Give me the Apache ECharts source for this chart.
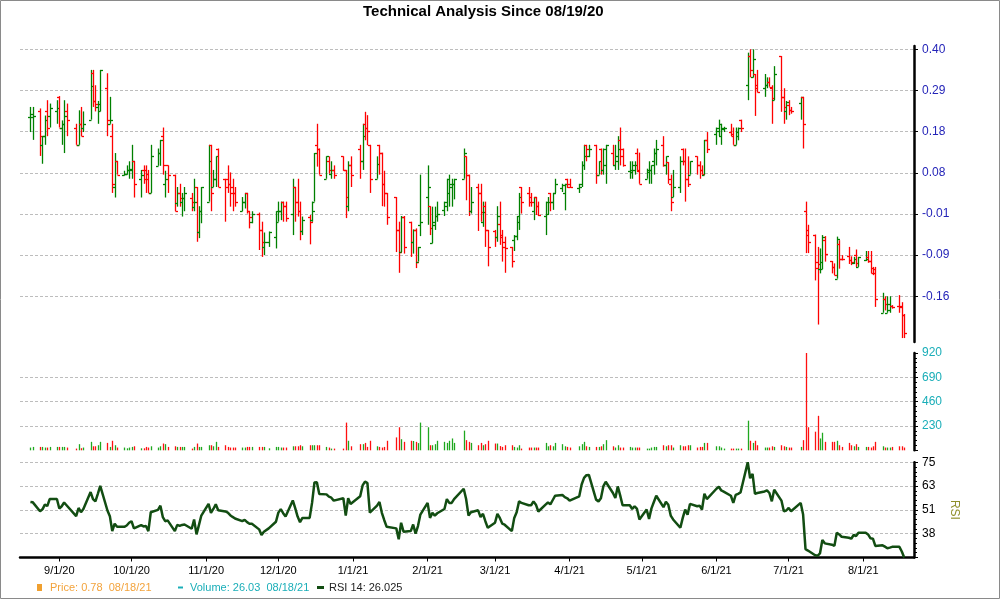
<!DOCTYPE html>
<html>
<head>
<meta charset="utf-8">
<script src="https://cdn.jsdelivr.net/npm/echarts@6/dist/echarts.min.js"></script>
<style>html,body{margin:0;padding:0;background:#fff}#chart{width:1000px;height:600px}</style>
</head>
<body>
<div id="chart"></div>
<script>
// ---------- data ----------
const titleText = 'Technical Analysis Since 08/19/20';
const firstDay = '2020-08-20';
const lastDay = '2021-08-18';
const marketHolidays = ['2020-09-07','2020-11-26','2020-12-25','2021-01-01','2021-01-18','2021-02-15','2021-04-02','2021-05-31','2021-07-05'];
const monthTicks = ['2020-09-01','2020-10-01','2020-11-01','2020-12-01','2021-01-01','2021-02-01','2021-03-01','2021-04-01','2021-05-01','2021-06-01','2021-07-01','2021-08-01'];
const priceTickLabels = [-0.16, -0.09, -0.01, 0.08, 0.18, 0.29, 0.40];
const volumeMax = 920, volumeStep = 230;
const rsiMin = 26.025, rsiMax = 75;
const priceName = 'Price: 0.78  08/18/21';
const volumeName = 'Volume: 26.03  08/18/21';
const rsiName = 'RSI 14: 26.025';

const open = [
 0.219,0.219,
 0.234,0.148,0.169,0.234,0.223,
 0.234,0.273,0.191,0.201,0.234,
 0.191,0.148,0.201,0.191,
 0.212,0.336,0.262,0.246,0.234,
 0.296,0.201,0.169,0.049,0.108,
 0.076,0.078,0.087,0.087,0.108,
 0.067,0.087,0.087,0.078,0.036,
 0.097,0.128,0.169,0.056,0.098,
 0.076,0.013,0.036,0.017,0.026,
 0.026,0.006,0.049,-0.046,-0.004,
 0.017,0.148,0.049,0.067,0.139,
 0.067,0.067,0.056,0.049,0.036,
 -0.004,0.017,0.036,-0.004,-0.025,
 -0.009,-0.041,-0.074,-0.064,
 -0.054,-0.025,-0.004,0.017,0.007,
 -0.009,0.049,0.017,-0.004,-0.044,
 -0.015,-0.022,0.017,0.148,0.139,
 0.067,0.108,0.078,0.087,
 0.120,0.087,0.007,0.098,
 0.139,0.108,0.201,0.191,0.148,
 0.067,0.148,0.129,0.056,0.036,
 0.027,-0.041,-0.084,-0.015,
 -0.025,-0.064,-0.041,-0.101,-0.031,
 0.027,0.007,-0.067,-0.031,-0.014,
 -0.001,0.017,0.036,0.049,0.056,
 0.067,0.120,0.076,-0.004,
 0.049,0.036,-0.025,0.007,-0.041,
 -0.044,-0.054,-0.030,-0.054,-0.074,
 -0.074,-0.061,-0.053,-0.025,0.049,
 0.036,0.027,-0.004,0.027,0.007,
 -0.014,-0.009,0.036,0.017,0.036,
 0.047,0.036,0.067,0.056,
 0.047,0.056,0.098,0.148,0.120,
 0.148,0.076,0.139,0.087,0.098,
 0.129,0.098,0.108,0.159,0.139,
 0.085,0.081,0.087,0.129,0.085,
 0.067,0.081,0.087,0.108,0.129,
 0.148,0.098,0.106,0.056,0.027,
 0.049,0.139,0.108,0.067,0.076,
 0.120,0.098,0.087,0.076,0.160,
 0.175,0.191,0.169,0.188,
 0.179,0.175,0.148,0.169,0.212,
 0.304,0.382,0.325,0.334,0.296,
 0.296,0.304,0.313,0.296,0.264,
 0.382,0.273,0.234,0.251,0.237,
 0.257,0.273,-0.004,-0.041,
 -0.050,-0.101,-0.113,-0.114,-0.061,
 -0.100,-0.110,-0.130,-0.069,-0.096,
 -0.092,-0.099,-0.103,-0.090,-0.110,
 -0.099,-0.093,-0.100,-0.112,-0.114,
 -0.188,-0.164,-0.188,-0.184,-0.177,
 -0.177,-0.177,-0.192
];
const high = [
 0.246,0.246,
 0.242,0.169,0.223,0.264,0.255,
 0.264,0.275,0.210,0.264,0.255,
 0.201,0.237,0.246,0.234,
 0.345,0.345,0.304,0.262,0.345,
 0.336,0.273,0.201,0.128,0.108,
 0.085,0.098,0.108,0.148,0.108,
 0.087,0.098,0.098,0.087,0.148,
 0.139,0.160,0.191,0.085,0.098,
 0.076,0.049,0.056,0.036,0.049,
 0.036,0.067,0.049,0.007,0.049,
 0.148,0.148,0.087,0.120,0.139,
 0.067,0.098,0.081,0.067,0.049,
 0.027,0.036,0.036,-0.004,-0.004,
 -0.007,-0.025,-0.046,-0.044,
 -0.004,0.017,0.017,0.017,0.017,
 0.067,0.049,0.067,0.017,-0.015,
 -0.012,0.017,0.128,0.201,0.139,
 0.120,0.120,0.108,0.098,
 0.120,0.087,0.108,0.120,
 0.148,0.201,0.233,0.224,0.148,
 0.120,0.148,0.129,0.085,0.036,
 0.027,-0.025,-0.014,-0.014,
 -0.025,-0.040,-0.038,-0.074,0.076,
 0.098,0.007,0.006,0.006,0.017,
 0.017,0.067,0.076,0.067,0.067,
 0.139,0.120,0.076,0.049,
 0.056,0.056,0.017,0.017,-0.041,
 -0.041,0.007,0.017,-0.041,-0.054,
 -0.074,-0.051,-0.014,0.036,0.049,
 0.049,0.036,0.027,0.027,0.017,
 0.017,0.027,0.036,0.036,0.067,
 0.056,0.056,0.067,0.067,
 0.056,0.108,0.148,0.148,0.148,
 0.148,0.108,0.139,0.139,0.148,
 0.148,0.148,0.169,0.191,0.139,
 0.108,0.108,0.108,0.139,0.129,
 0.090,0.108,0.098,0.139,0.160,
 0.169,0.120,0.106,0.076,0.087,
 0.120,0.139,0.139,0.120,0.108,
 0.120,0.108,0.098,0.160,0.179,
 0.191,0.212,0.201,0.193,
 0.201,0.191,0.191,0.191,0.212,
 0.391,0.400,0.400,0.334,0.345,
 0.334,0.325,0.325,0.304,0.355,
 0.382,0.296,0.262,0.264,0.246,
 0.273,0.273,0.017,-0.031,
 -0.050,-0.074,-0.077,-0.051,-0.053,
 -0.100,-0.104,-0.054,-0.061,-0.090,
 -0.074,-0.092,-0.093,-0.079,-0.093,
 -0.082,-0.082,-0.082,-0.110,-0.110,
 -0.154,-0.160,-0.160,-0.160,-0.175,
 -0.158,-0.170,-0.190
];
const low = [
 0.179,0.160,
 0.121,0.102,0.148,0.169,0.191,
 0.201,0.191,0.148,0.128,0.169,
 0.148,0.148,0.169,0.179,
 0.212,0.246,0.234,0.201,0.234,
 0.169,0.201,0.036,0.026,0.076,
 0.074,0.076,0.067,0.067,0.026,
 0.026,0.056,0.036,0.036,0.036,
 0.097,0.097,0.076,0.026,0.036,
 -0.004,0.006,0.006,-0.015,-0.004,
 -0.004,-0.004,-0.064,-0.057,-0.028,
 0.017,-0.004,0.049,0.049,0.049,
 -0.025,0.036,0.006,-0.004,0.006,
 -0.004,0.002,-0.009,-0.038,-0.028,
 -0.080,-0.093,-0.090,-0.074,
 -0.077,-0.025,-0.022,-0.025,-0.025,
 -0.051,-0.025,-0.015,-0.061,-0.051,
 -0.069,-0.025,0.017,0.095,0.076,
 0.067,0.078,0.067,0.067,
 0.085,-0.018,-0.004,0.049,
 0.067,0.087,0.159,0.147,0.036,
 0.067,0.076,0.007,0.006,-0.031,
 -0.084,-0.120,-0.084,-0.087,
 -0.093,-0.087,-0.112,-0.101,-0.053,
 -0.031,-0.051,-0.067,-0.041,-0.025,
 -0.014,-0.004,0.006,0.006,0.022,
 0.067,0.020,-0.014,-0.009,
 -0.043,-0.025,-0.035,-0.074,-0.109,
 -0.074,-0.064,-0.070,-0.101,-0.120,
 -0.111,-0.082,-0.061,-0.041,-0.009,
 0.006,0.006,-0.022,-0.012,-0.014,
 -0.051,-0.012,-0.004,-0.001,0.036,
 0.038,-0.002,0.047,0.047,
 0.036,0.049,0.087,0.108,0.118,
 0.056,0.076,0.076,0.076,0.056,
 0.098,0.087,0.087,0.098,0.095,
 0.067,0.067,0.076,0.085,0.056,
 0.067,0.056,0.056,0.076,0.098,
 0.095,0.076,0.056,-0.004,0.027,
 0.036,0.098,0.017,0.049,0.076,
 0.076,0.067,0.076,0.076,0.128,
 0.148,0.169,0.148,0.179,
 0.169,0.148,0.148,0.159,0.179,
 0.264,0.325,0.325,0.222,0.285,
 0.273,0.296,0.300,0.201,0.264,
 0.233,0.201,0.212,0.224,0.228,
 0.212,0.139,-0.086,-0.086,
 -0.133,-0.208,-0.121,-0.114,-0.101,
 -0.121,-0.124,-0.130,-0.113,-0.099,
 -0.105,-0.107,-0.105,-0.110,-0.110,
 -0.100,-0.103,-0.121,-0.124,-0.178,
 -0.188,-0.184,-0.188,-0.188,-0.181,
 -0.188,-0.231,-0.231
];
const close = [
 0.227,0.223,
 0.169,0.169,0.212,0.191,0.244,
 0.244,0.191,0.201,0.223,0.212,
 0.148,0.201,0.169,0.201,
 0.302,0.262,0.255,0.255,0.345,
 0.212,0.212,0.056,0.108,0.076,
 0.078,0.087,0.090,0.108,0.056,
 0.076,0.067,0.067,0.036,0.120,
 0.128,0.160,0.098,0.067,0.076,
 -0.004,0.036,0.026,0.026,0.036,
 0.017,0.017,-0.046,-0.004,0.049,
 0.108,0.036,0.067,0.120,0.049,
 0.049,0.056,0.036,0.036,0.017,
 0.017,0.036,-0.004,-0.015,-0.009,
 -0.041,-0.064,-0.064,-0.046,
 -0.004,-0.004,0.017,0.007,-0.017,
 0.049,0.017,-0.004,-0.044,-0.022,
 -0.025,-0.004,0.128,0.139,0.076,
 0.120,0.087,0.087,0.076,
 0.087,0.027,0.098,0.076,
 0.108,0.169,0.191,0.181,0.067,
 0.102,0.129,0.056,0.036,-0.015,
 -0.041,-0.084,-0.015,-0.074,
 -0.064,-0.041,-0.101,-0.074,-0.025,
 0.049,-0.038,-0.025,-0.014,-0.009,
 0.007,0.067,0.056,0.056,0.067,
 0.128,0.076,-0.004,0.017,
 0.036,-0.005,-0.005,-0.041,-0.074,
 -0.054,-0.014,-0.051,-0.064,-0.077,
 -0.100,-0.053,-0.014,0.027,0.017,
 0.017,0.017,0.027,0.007,-0.012,
 0.017,0.017,0.017,0.036,0.056,
 0.053,0.056,0.049,0.049,
 0.049,0.098,0.120,0.139,0.139,
 0.076,0.108,0.087,0.139,0.148,
 0.098,0.120,0.139,0.120,0.098,
 0.087,0.098,0.098,0.087,0.056,
 0.087,0.087,0.098,0.129,0.139,
 0.098,0.120,0.067,0.017,0.049,
 0.108,0.108,0.067,0.056,0.108,
 0.098,0.087,0.078,0.160,0.139,
 0.181,0.201,0.191,0.191,
 0.169,0.148,0.179,0.191,0.191,
 0.382,0.345,0.373,0.304,0.286,
 0.304,0.313,0.300,0.269,0.334,
 0.273,0.246,0.260,0.237,0.234,
 0.273,0.201,-0.051,-0.064,
 -0.112,-0.105,-0.101,-0.054,-0.087,
 -0.110,-0.123,-0.059,-0.096,-0.097,
 -0.099,-0.101,-0.096,-0.103,-0.093,
 -0.096,-0.100,-0.121,-0.121,-0.164,
 -0.164,-0.173,-0.173,-0.177,-0.178,
 -0.178,-0.192,-0.222
];
const volume = [
 26,32,
 32,32,26,26,32,
 32,32,32,32,26,
 16,58,20,26,
 80,38,38,48,80,
 70,32,90,48,26,
 26,19,26,32,38,
 19,19,32,26,38,
 26,38,64,58,32,
 38,32,32,32,32,
 16,32,64,32,32,
 48,48,38,80,32,
 48,32,26,26,26,
 26,26,32,32,32,
 32,32,32,19,
 32,32,26,26,26,
 38,38,38,48,38,
 48,48,48,48,48,
 32,26,16,16,
 16,262,90,38,
 58,58,70,32,90,
 38,32,26,32,90,
 122,218,105,80,
 90,88,80,68,262,
 218,48,48,58,90,
 80,70,90,112,70,
 186,96,80,70,
 48,70,48,58,90,
 64,64,40,32,48,
 48,32,26,48,16,
 26,26,26,26,26,
 70,38,48,38,70,
 58,38,32,26,
 38,58,80,38,32,
 32,32,38,58,96,
 38,26,48,26,26,
 32,26,26,26,26,
 16,16,26,32,32,
 48,38,48,48,26,
 48,38,38,48,48,
 26,32,32,70,70,
 38,38,26,16,
 16,16,16,16,16,
 280,90,70,90,48,
 26,26,26,38,32,
 48,38,32,26,26,
 32,96,920,218,
 176,326,112,166,80,
 80,80,90,48,32,
 70,48,38,58,32,
 32,32,26,38,80,
 38,26,26,26,32,
 38,38,26.03
];
const rsi = [
 54.6,54.4,
 49.8,50.8,53.2,52.5,56.1,
 56.1,51.2,52.4,54.3,52.9,
 47.3,51.5,49.3,51.0,
 59.7,56.1,54.9,58.8,62.9,
 50.2,47.3,39.6,43.4,41.8,
 41.8,42.5,43.9,44.7,41.0,
 42.7,42.0,42.2,39.6,49.3,
 50.5,52.7,46.8,44.7,45.1,
 39.6,42.8,42.3,42.8,43.0,
 40.8,45.6,37.9,42.7,47.6,
 53.6,49.0,51.0,53.4,50.3,
 49.7,49.1,47.8,46.9,46.1,
 44.7,45.4,44.2,43.4,43.4,
 40.5,37.6,39.3,41.0,
 44.4,49.1,50.9,48.8,47.1,
 55.4,51.4,47.1,44.2,46.4,
 46.4,54.1,64.6,64.8,58.7,
 58.5,57.3,56.8,55.3,
 56.5,47.6,56.5,53.6,
 57.5,63.1,65.1,64.3,49.1,
 52.7,54.6,49.0,45.2,41.8,
 41.0,35.4,43.9,39.3,
 39.6,43.0,38.3,42.2,48.1,
 54.1,46.4,49.0,47.6,48.8,
 51.0,56.1,54.1,54.1,56.1,
 61.4,56.1,47.6,49.3,
 50.3,46.8,48.5,44.7,41.3,
 43.9,48.5,46.4,43.5,42.9,
 39.6,46.4,49.3,54.9,54.1,
 52.9,52.9,54.9,53.2,49.7,
 53.2,54.3,53.4,55.6,57.8,
 58.2,57.1,56.5,55.3,
 57.5,63.6,67.0,68.4,68.5,
 55.8,54.9,56.5,62.6,65.0,
 59.2,56.6,62.6,58.0,52.9,
 52.9,51.0,52.4,51.0,45.6,
 50.7,45.9,51.3,54.6,57.8,
 51.9,54.7,53.2,47.6,45.6,
 41.3,46.4,50.7,48.0,53.6,
 52.4,52.7,50.7,58.8,56.1,
 61.4,62.4,60.5,59.9,
 57.8,54.1,58.2,58.8,59.5,
 75.0,66.8,69.0,58.8,59.2,
 60.0,60.5,59.2,54.9,60.9,
 55.3,49.8,50.2,51.5,49.8,
 54.1,48.1,30.3,29.6,
 27.2,26.9,28.1,35.0,33.3,
 32.6,32.0,38.8,37.9,36.7,
 36.2,35.7,37.6,37.1,38.8,
 38.8,37.9,35.9,35.7,32.0,
 32.3,31.6,30.8,31.1,31.5,
 31.5,29.1,26.025
];

// ---------- helpers ----------
const DAY = 86400000;
function tradingDays(from, to, skip) {
  const out = [];
  let t = Date.parse(from + 'T00:00:00Z');
  const end = Date.parse(to + 'T00:00:00Z');
  while (t <= end) {
    const d = new Date(t), w = d.getUTCDay(), s = d.toISOString().slice(0, 10);
    if (w !== 0 && w !== 6 && skip.indexOf(s) < 0) out.push(t);
    t += DAY;
  }
  return out;
}
const dates = tradingDays(firstDay, lastDay, marketHolidays);
if (dates.length !== open.length) console.error('length mismatch', dates.length, open.length);

// price axis: tick labels are evenly spaced, values between them interpolated
function toG(v) {
  const L = priceTickLabels;
  let i = 0;
  while (i < L.length - 2 && v >= L[i + 1]) i++;
  return i + (v - L[i]) / (L[i + 1] - L[i]);
}
const gTicks = priceTickLabels.map((_, i) => i);

const origin = Date.UTC(2020, 8, 1);
const X_MIN = origin - 16.33 * DAY;
const X_MAX = origin + 355.07 * DAY;
const monthTs = monthTicks.map(s => Date.parse(s + 'T00:00:00Z'));

const UP = '#008000', DOWN = '#ff0000', VUP = '#1fa81f', VDOWN = '#ff1010';
const FONT = 'Liberation Sans, Arial, sans-serif';

const priceData = dates.map((t, i) => [t, toG(open[i]), toG(high[i]), toG(low[i]), toG(close[i])]);
const volData = dates.map((t, i) => [t, volume[i], close[i] >= open[i] ? 1 : 0]);
const rsiData = dates.map((t, i) => [t, rsi[i]]);

function crisp(v) { return Math.round(v) + 0.5; }

function renderOHLC(params, api) {
  const t = api.value(0);
  const pO = api.coord([t, api.value(1)]);
  const pH = api.coord([t, api.value(2)]);
  const pL = api.coord([t, api.value(3)]);
  const pC = api.coord([t, api.value(4)]);
  const color = api.value(4) >= api.value(1) ? UP : DOWN;
  const x = crisp(pH[0]);
  const st = { stroke: color, lineWidth: 1.3 };
  return {
    type: 'group',
    children: [
      { type: 'line', shape: { x1: x, y1: pH[1], x2: x, y2: pL[1] + 0.01 }, style: st },
      { type: 'line', shape: { x1: x - 2.5, y1: crisp(pO[1]), x2: x, y2: crisp(pO[1]) }, style: st },
      { type: 'line', shape: { x1: x, y1: crisp(pC[1]), x2: x + 2.5, y2: crisp(pC[1]) }, style: st }
    ]
  };
}
function renderVol(params, api) {
  const t = api.value(0);
  const p = api.coord([t, api.value(1)]);
  const b = api.coord([t, 0]);
  const x = crisp(p[0]);
  return { type: 'line', shape: { x1: x, y1: b[1], x2: x, y2: p[1] },
           style: { stroke: api.value(2) ? VUP : VDOWN, lineWidth: 1.3 } };
}
function fmtDate(v) {
  const d = new Date(v);
  return (d.getUTCMonth() + 1) + '/' + d.getUTCDate() + '/' + String(d.getUTCFullYear()).slice(2);
}

const dash = { type: [3, 2], color: '#bdbdbd', width: 1 };
const axisLineStyle = { show: true, onZero: false, lineStyle: { color: '#000', width: 2.5 } };
const xCommon = { type: 'value', min: X_MIN, max: X_MAX, scale: true, splitLine: { show: false } };

const option = {
  animation: false,
  backgroundColor: '#fff',
  title: {
    text: titleText, left: 363, top: 4, padding: 0,
    textStyle: { fontFamily: FONT, fontSize: 15, fontWeight: 'bold', color: '#000' }
  },
  grid: [
    { left: 20, right: 86, top: 46, bottom: 258 },
    { left: 20, right: 86, top: 353, bottom: 149.7 },
    { left: 20, right: 86, top: 462.3, bottom: 42.5 }
  ],
  xAxis: [
    Object.assign({ gridIndex: 0, show: false }, xCommon),
    Object.assign({ gridIndex: 1, show: false }, xCommon),
    Object.assign({
      gridIndex: 2,
      axisLine: { show: true, onZero: false, lineStyle: { color: '#000', width: 2.5 } },
      axisTick: { show: true, customValues: monthTs, length: 4, lineStyle: { color: '#000' } },
      axisLabel: { customValues: monthTs, formatter: fmtDate, color: '#000', fontSize: 11, fontFamily: FONT, margin: 8 }
    }, xCommon)
  ],
  yAxis: [
    {
      type: 'value', gridIndex: 0, position: 'right', min: -(342 - 296.3) / 41.17, max: 6 + (49.3 - 46) / 41.17,
      axisLine: axisLineStyle,
      axisTick: { show: true, customValues: gTicks, length: 4, lineStyle: { color: '#000' } },
      axisLabel: { customValues: gTicks, formatter: v => priceTickLabels[Math.round(v)].toFixed(2),
                   color: '#2424b8', fontSize: 12, fontFamily: FONT, margin: 8 },
      splitLine: { show: true, lineStyle: dash }
    },
    {
      type: 'value', gridIndex: 1, position: 'right', min: 0, max: volumeMax, interval: volumeStep,
      axisLine: axisLineStyle,
      axisTick: { show: true, length: 4, lineStyle: { color: '#000' } },
      minorTick: { show: true, splitNumber: 5, length: 3, lineStyle: { color: '#000' } },
      axisLabel: { showMinLabel: false, color: '#1aaeb8', fontSize: 12, fontFamily: FONT, margin: 8 },
      splitLine: { show: true, showMinLine: false, showMaxLine: false, lineStyle: dash }
    },
    {
      type: 'value', gridIndex: 2, position: 'right', min: rsiMin, max: rsiMax, interval: (rsiMax - rsiMin) / 4,
      name: 'RSI', nameLocation: 'middle', nameRotate: -90, nameGap: 34,
      nameTextStyle: { color: '#8f8f2a', fontSize: 12, fontFamily: FONT },
      axisLine: axisLineStyle,
      axisTick: { show: true, length: 4, lineStyle: { color: '#000' } },
      minorTick: { show: true, splitNumber: 5, length: 3, lineStyle: { color: '#000' } },
      axisLabel: { showMinLabel: false, formatter: v => String(Math.round(v)), color: '#000', fontSize: 12, fontFamily: FONT, margin: 8 },
      splitLine: { show: true, showMinLine: false, lineStyle: dash }
    }
  ],
  legend: [
    { data: [{ name: priceName, icon: 'rect', itemStyle: { color: '#f0a030' } }],
      left: 37, top: 582, padding: 0, itemWidth: 5, itemHeight: 7, selectedMode: false,
      textStyle: { color: '#f3a33c', fontSize: 11, fontFamily: FONT, padding: [0, 0, 0, 3] } },
    { data: [{ name: volumeName, icon: 'rect', itemStyle: { color: '#1aaeb8' } }],
      left: 178, top: 582, padding: 0, itemWidth: 5, itemHeight: 2, selectedMode: false,
      textStyle: { color: '#1aaeb8', fontSize: 11, fontFamily: FONT, padding: [0, 0, 0, 2] } },
    { data: [{ name: rsiName, icon: 'rect', itemStyle: { color: '#124d12' } }],
      left: 317, top: 582, padding: 0, itemWidth: 7, itemHeight: 3, selectedMode: false,
      textStyle: { color: '#222', fontSize: 11, fontFamily: FONT } }
  ],
  series: [
    { name: priceName, type: 'custom', xAxisIndex: 0, yAxisIndex: 0, renderItem: renderOHLC,
      encode: { x: 0, y: [1, 2, 3, 4] }, data: priceData, itemStyle: { color: '#f0a030' } },
    { name: volumeName, type: 'custom', xAxisIndex: 1, yAxisIndex: 1, renderItem: renderVol,
      encode: { x: 0, y: 1 }, data: volData, itemStyle: { color: '#1aaeb8' } },
    { name: rsiName, type: 'line', xAxisIndex: 2, yAxisIndex: 2, data: rsiData, showSymbol: false,
      lineStyle: { color: '#124d12', width: 2.5 }, itemStyle: { color: '#124d12' } }
  ],
  graphic: [
    { type: 'rect', silent: true, z: 100, shape: { x: 0.5, y: 0.5, width: 999, height: 598 },
      style: { fill: 'none', stroke: '#8a8a8a', lineWidth: 1 } }
  ]
};

const chart = echarts.init(document.getElementById('chart'), null, { renderer: 'canvas' });
chart.setOption(option);
</script>
</body>
</html>
